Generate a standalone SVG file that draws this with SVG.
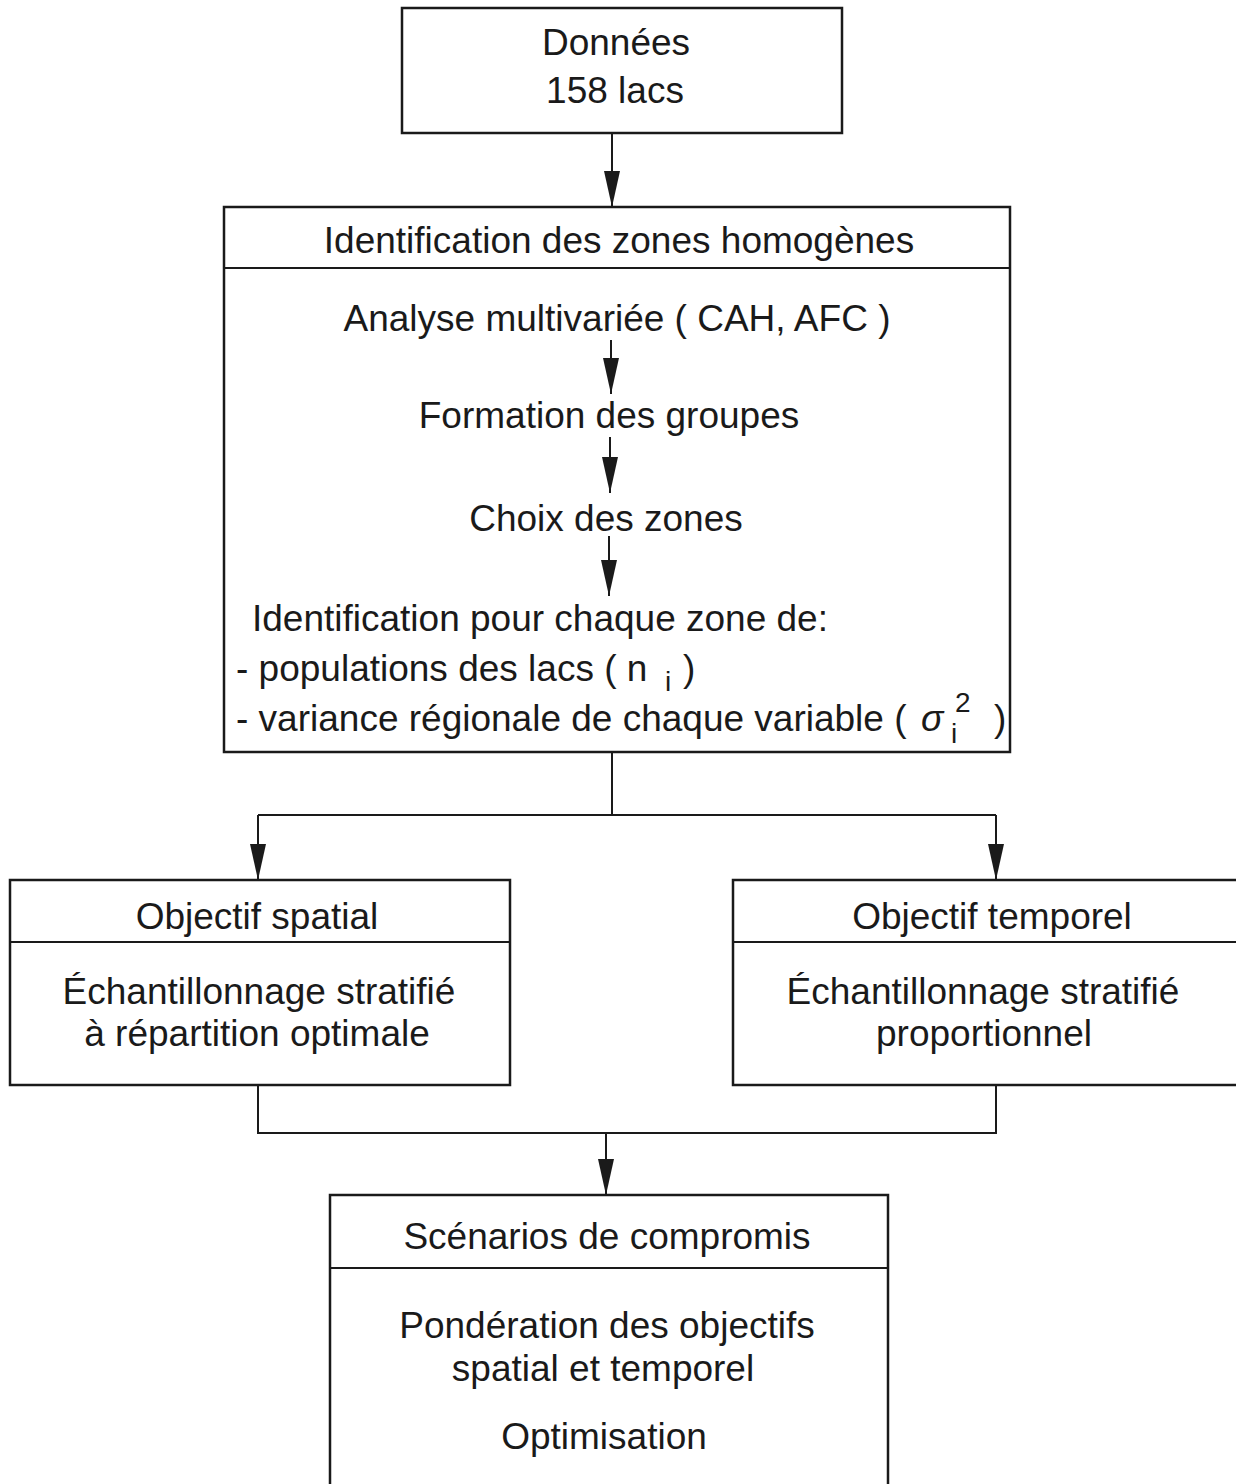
<svg xmlns="http://www.w3.org/2000/svg" width="1236" height="1484" viewBox="0 0 1236 1484">
<defs>
<style>
.box{fill:#fff;stroke:#1a1a1a;stroke-width:2.5}
.div{stroke:#1a1a1a;stroke-width:2}
.t{font-family:"Liberation Sans",Arial,sans-serif;font-size:37px;fill:#1a1a1a;text-anchor:middle}
.l{font-family:"Liberation Sans",Arial,sans-serif;font-size:37px;fill:#1a1a1a}
.s{font-family:"Liberation Sans",Arial,sans-serif;font-size:28px;fill:#1a1a1a}
.c{fill:none;stroke:#1a1a1a;stroke-width:2}
</style>
<marker id="av" markerUnits="userSpaceOnUse" markerWidth="36" markerHeight="18" viewBox="0 0 36 18" refX="36" refY="9" orient="auto">
<path d="M0,1 L0,17 L36,9 Z" fill="#1a1a1a"/>
</marker>
</defs>
<rect width="1236" height="1484" fill="#fff"/>
<g id="node-donnees">
<rect class="box" x="402" y="8" width="440" height="125"/>
<text class="t" x="616" y="55">Données</text>
<text class="t" x="615" y="103">158 lacs</text>
</g>
<g id="node-identification">
<rect class="box" x="224" y="207" width="786" height="545"/>
<line class="div" x1="224" y1="268" x2="1010" y2="268"/>
<text class="t" x="619" y="253">Identification des zones homogènes</text>
<text class="t" x="617" y="331">Analyse multivariée ( CAH, AFC )</text>
<text class="t" x="609" y="428">Formation des groupes</text>
<text class="t" x="606" y="531">Choix des zones</text>
<text class="l" x="252" y="631">Identification pour chaque zone de:</text>
<text class="l" x="236" y="681">- populations des lacs ( n</text>
<text class="s" x="665" y="691">i</text>
<text class="l" x="683" y="681">)</text>
<text class="l" x="236" y="731">- variance régionale de chaque variable (</text>
<text class="l" x="921" y="731" font-style="italic">σ</text>
<text class="s" x="951" y="743">i</text>
<text class="s" x="955" y="712">2</text>
<text class="l" x="994" y="731">)</text>
</g>
<g id="node-spatial">
<rect class="box" x="10" y="880" width="500" height="205"/>
<line class="div" x1="10" y1="942" x2="510" y2="942"/>
<text class="t" x="257" y="929">Objectif spatial</text>
<text class="t" x="259" y="1004">Échantillonnage stratifié</text>
<text class="t" x="257" y="1046">à répartition optimale</text>
</g>
<g id="node-temporel">
<rect class="box" x="733" y="880" width="520" height="205"/>
<line class="div" x1="733" y1="942" x2="1236" y2="942"/>
<text class="t" x="992" y="929">Objectif temporel</text>
<text class="t" x="983" y="1004">Échantillonnage stratifié</text>
<text class="t" x="984" y="1046">proportionnel</text>
</g>
<g id="node-scenarios">
<rect class="box" x="330" y="1195" width="558" height="320"/>
<line class="div" x1="330" y1="1268" x2="888" y2="1268"/>
<text class="t" x="607" y="1249">Scénarios de compromis</text>
<text class="t" x="607" y="1338">Pondération des objectifs</text>
<text class="t" x="603" y="1381">spatial et temporel</text>
<text class="t" x="604" y="1449">Optimisation</text>
</g>
<g id="connectors">
<path class="c" d="M612,133 L612,207" marker-end="url(#av)"/>
<path class="c" d="M611,340 L611,394" marker-end="url(#av)"/>
<path class="c" d="M610,437 L610,493" marker-end="url(#av)"/>
<path class="c" d="M609,536 L609,596" marker-end="url(#av)"/>
<path class="c" d="M612,752 L612,815"/>
<path class="c" d="M258,815 L996,815"/>
<path class="c" d="M258,815 L258,880" marker-end="url(#av)"/>
<path class="c" d="M996,815 L996,880" marker-end="url(#av)"/>
<path class="c" d="M258,1085 L258,1133 L996,1133 L996,1085"/>
<path class="c" d="M606,1133 L606,1195" marker-end="url(#av)"/>
</g>
</svg>
